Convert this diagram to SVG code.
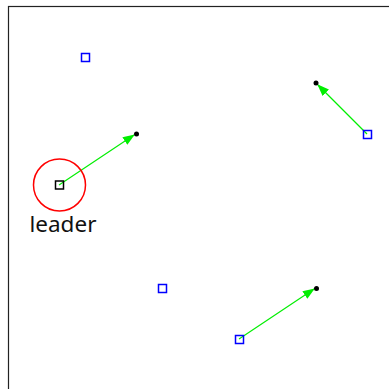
<svg xmlns="http://www.w3.org/2000/svg" width="389" height="389" viewBox="0 0 389 389">
<style>
.frame{fill:none;stroke:#222;stroke-width:1.2}
.node{fill:none;stroke:#0000ff;stroke-width:1.5}
.leader{fill:none;stroke:#000;stroke-width:1.5}
.ring{fill:none;stroke:#ff0000;stroke-width:1.5}
.edge{stroke:#00ee00;stroke-width:1.2;fill:none;marker-end:url(#ah)}
.dot{fill:#000}
.lbl{font-family:"Noto Sans","Open Sans",sans-serif;font-size:22.5px;fill:#111}
</style>
<defs>
<marker id="ah" markerWidth="12" markerHeight="9" refX="11" refY="4.5" orient="auto" markerUnits="userSpaceOnUse">
<path d="M0,0 L12,4.5 L0,9 Z" fill="#00ee00"/>
</marker>
</defs>
<rect width="389" height="389" fill="#fff"/>
<rect class="frame" x="8.5" y="6.5" width="400" height="400"/>
<g id="connectors">
<line class="edge" x1="59" y1="185" x2="134" y2="135"/>
<line class="edge" x1="367" y1="134" x2="318" y2="85"/>
<line class="edge" x1="239" y1="339" x2="314" y2="289"/>
</g>
<g id="node-leader">
<circle class="ring" cx="59.5" cy="185" r="26"/>
<rect class="leader" x="55.5" y="181" width="8" height="8"/>
<text class="lbl" x="29.5" y="231.5">leader</text>
</g>
<g id="node-1"><rect class="node" x="81.5" y="53.5" width="8" height="8"/></g>
<g id="node-2"><rect class="node" x="158.5" y="284.5" width="8" height="8"/></g>
<g id="node-3"><rect class="node" x="363.5" y="130.5" width="8" height="8"/></g>
<g id="node-4"><rect class="node" x="235.5" y="335.5" width="8" height="8"/></g>
<g id="target-1"><circle class="dot" cx="136.5" cy="134" r="2.5"/></g>
<g id="target-2"><circle class="dot" cx="316" cy="83" r="2.5"/></g>
<g id="target-3"><circle class="dot" cx="316.5" cy="288.5" r="2.5"/></g>
</svg>
